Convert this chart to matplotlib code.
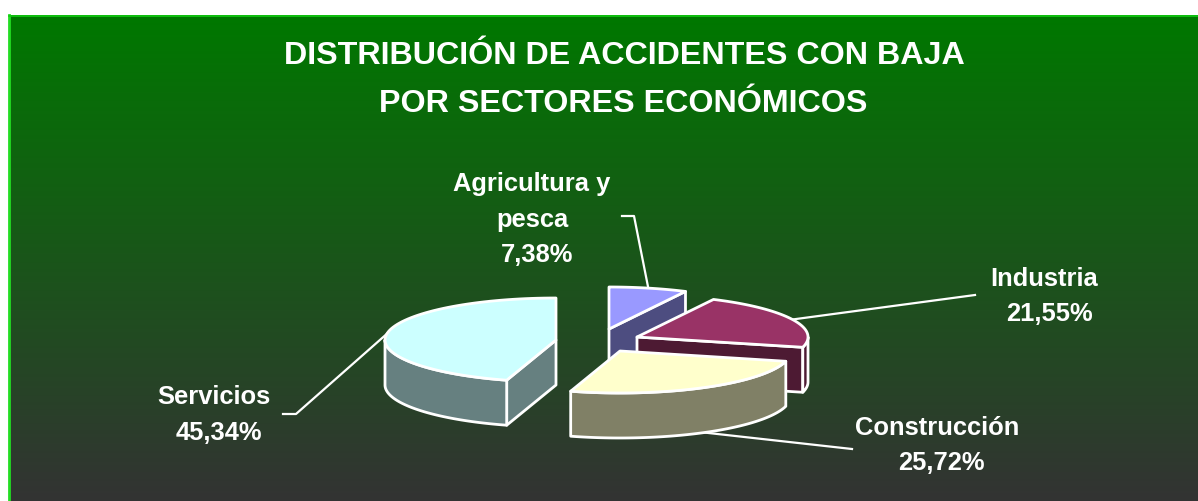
import numpy as np
import matplotlib
matplotlib.use("Agg")
import matplotlib.pyplot as plt
from matplotlib.patches import Polygon

plt.rcParams['font.family'] = ['Liberation Sans', 'DejaVu Sans']

sectors = ["Agricultura y\npesca", "Industria", "Construcción", "Servicios"]
shares = [7.38, 21.55, 25.72, 45.34]
share_labels = ["7,38%", "21,55%", "25,72%", "45,34%"]
top_colors = ["#9999FF", "#993366", "#FFFFCC", "#CCFFFF"]
side_colors = ["#4D4D80", "#4D1A33", "#808066", "#668080"]
title_lines = ["DISTRIBUCIÓN DE ACCIDENTES CON BAJA", "POR SECTORES ECONÓMICOS"]

# exploded wedge apex for each slice, pixels
apex = [(609, 329), (637, 337), (620, 351), (556, 340)]
RX, RY, DEPTH = 171, 42, 45
EDGE = 2.0


def rim(i, a, b, n=80):
    t = np.radians(np.linspace(a, b, n))
    x = apex[i][0] + RX * np.sin(t)
    y = apex[i][1] - RY * np.cos(t)
    return np.column_stack([x, y])


fig = plt.figure(figsize=(11.98, 5.01), dpi=100, facecolor="white")
ax = fig.add_axes([0, 0, 1, 1])
ax.axis("off")

# background gradient
n = 486
grad = np.zeros((n, 1, 3))
t = np.linspace(0, 1, n)
grad[:, 0, 0] = (0x00 + (0x33 - 0x00) * t) / 255
grad[:, 0, 1] = (0x78 + (0x33 - 0x78) * t) / 255
grad[:, 0, 2] = (0x00 + (0x33 - 0x00) * t) / 255
ax.imshow(grad, extent=(9, 1198, 501, 15), aspect="auto", zorder=0)
ax.plot([9, 9], [501, 15], color="#22DD22", lw=2, zorder=1)
ax.plot([9, 1198], [15.5, 15.5], color="#11CC11", lw=1.2, zorder=1)
ax.set_xlim(0, 1198)
ax.set_ylim(501, 0)

# slice angles, clockwise from 12 o'clock
edges = np.concatenate([[0], np.cumsum(shares)]) / sum(shares) * 360
down = np.array([0, DEPTH])


def draw_slice(i, z):
    a, b = edges[i], edges[i + 1]
    outer = rim(i, a, b)
    ap = np.array(apex[i], dtype=float)
    pk = dict(edgecolor="white", lw=EDGE, joinstyle="round", zorder=z)
    # cut faces that look towards the viewer
    if np.cos(np.radians(b)) > -0.5 and i != 3:
        end = outer[-1]
        ax.add_patch(Polygon([ap, end, end + down, ap + down], facecolor=side_colors[i], **pk))
    if i == 3:
        st = outer[0]
        ax.add_patch(Polygon([ap, st, st + down, ap + down], facecolor=side_colors[i], **pk))
    # outer wall, lower half of the rim only
    lo, hi = max(a, 90), min(b, 270)
    if lo < hi:
        arc = rim(i, lo, hi)
        ax.add_patch(Polygon(np.vstack([arc, (arc + down)[::-1]]), facecolor=side_colors[i], **pk))
    ax.add_patch(Polygon(np.vstack([ap, outer]), facecolor=top_colors[i], **pk))


# leader lines start on the rim at the middle of each slice
def anchor(i, drop=0):
    m = (edges[i] + edges[i + 1]) / 2
    p = rim(i, m, m, 1)[0]
    return p + np.array([0, drop])


leaders = [
    [(622, 216), (634, 216)],
    [(975, 295)],
    [(852, 449)],
    [(283, 414), (296, 414)],
]
drops = [0, 0, DEPTH, 0]
for i, pts in enumerate(leaders):
    xy = np.array(pts + [tuple(anchor(i, drops[i]))])
    ax.plot(xy[:, 0], xy[:, 1], color="white", lw=1.6, zorder=2)

for z, i in enumerate([0, 1, 3, 2]):
    draw_slice(i, 3 + z)

# text
ax.text(624, 56, title_lines[0], ha="center", va="center", color="white", fontsize=23.2, fontweight="bold")
ax.text(623, 104, title_lines[1], ha="center", va="center", color="white", fontsize=23.2, fontweight="bold")

lab = dict(color="white", fontsize=18.4, fontweight="bold", va="center", ha="center")
ax.text(532, 184, "Agricultura y", **lab)
ax.text(532, 220, "pesca", **lab)
ax.text(537, 255, share_labels[0], **lab)
ax.text(1044, 279, sectors[1], **lab)
ax.text(1049, 314, share_labels[1], **lab)
ax.text(937, 428, sectors[2], **lab)
ax.text(941, 463, share_labels[2], **lab)
ax.text(214, 397, sectors[3], **lab)
ax.text(219, 433, share_labels[3], **lab)

fig.savefig("out.png", dpi=100)
